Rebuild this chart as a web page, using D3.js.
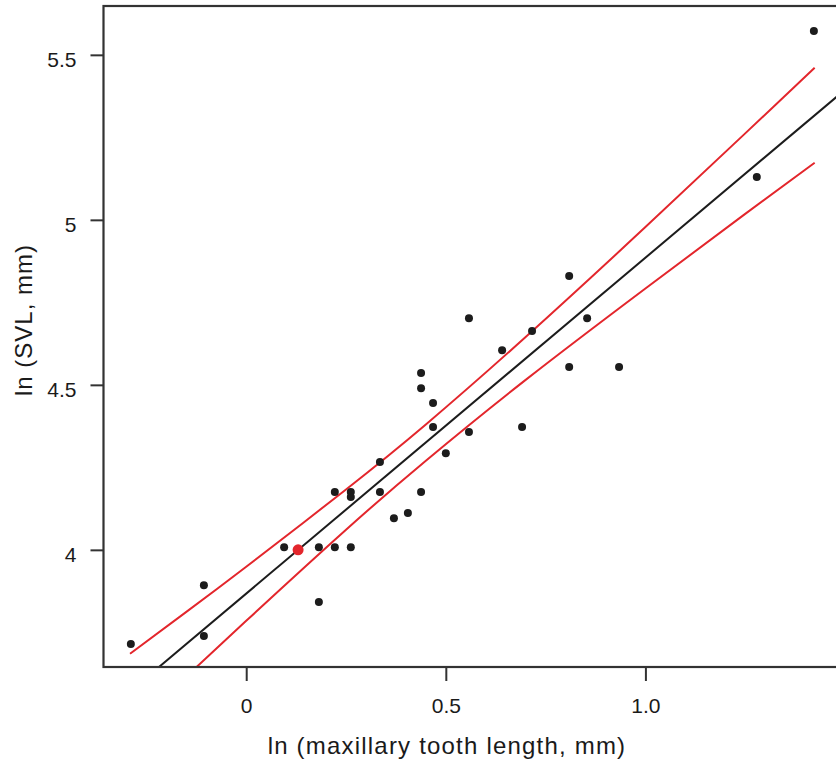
<!DOCTYPE html>
<html>
<head>
<meta charset="utf-8">
<script src="https://cdn.jsdelivr.net/npm/d3@7"></script>
<style>
    body { margin: 0; background: #fff; }
    text { font-family: "Liberation Sans", Arial, sans-serif; fill: #1a1a1a; }
</style>
</head>
<body>
<svg width="836" height="765"></svg>
<script>
// observed specimens, ln values
var lnTooth = [-0.289, -0.106, -0.106, 0.095, 0.182, 0.182, 0.222, 0.262, 0.222, 0.262,
    0.262, 0.335, 0.335, 0.370, 0.405, 0.438, 0.438, 0.438, 0.468, 0.468,
    0.500, 0.558, 0.558, 0.641, 0.691, 0.716, 0.809, 0.809, 0.854, 0.934,
    1.279, 1.422];
var lnSVL = [3.715, 3.893, 3.739, 4.008, 4.008, 3.842, 4.008, 4.008, 4.175, 4.175,
    4.160, 4.175, 4.266, 4.096, 4.112, 4.175, 4.536, 4.490, 4.445, 4.372,
    4.293, 4.357, 4.702, 4.605, 4.372, 4.663, 4.830, 4.554, 4.702, 4.554,
    5.130, 5.572];

// highlighted specimen (red dot)
var focalX = [0.13];
var focalY = [4.0];

// regression line, read at the plot edges
var fitX = [-0.36, 1.49];
var fitY = [3.501, 5.384];

// confidence band
var bandX = [-0.291, -0.15, 0, 0.25, 0.45, 0.7, 1.0, 1.25, 1.424];
var bandLow = [3.457, 3.616, 3.785, 4.061, 4.270, 4.515, 4.792, 5.018, 5.173];
var bandHigh = [3.685, 3.812, 3.949, 4.183, 4.380, 4.645, 4.978, 5.262, 5.461];

var xTicks = [0, 0.5, 1.0];
var xTickLabels = ["0", "0.5", "1.0"];
var yTicks = [4, 4.5, 5, 5.5];
var yTickLabels = ["4", "4.5", "5", "5.5"];

var canvas = d3.select("svg");

var margin = { top: 6, left: 103.5, bottom: 98, right: -4.5 };
var iInnerWidth = 836 - margin.left - margin.right;
var iInnerHeight = 765 - margin.top - margin.bottom;

var colorInk = "#1c1c1c";
var colorRed = "#e3262c";
var colorAxis = "#333333";

var xScale = d3.scaleLinear()
    .domain([-0.3575, 1.4887])
    .range([0, iInnerWidth]);

var yScale = d3.scaleLinear()
    .domain([3.645, 5.648])
    .range([iInnerHeight, 0]);

var g = canvas.append("g")
    .attr("transform", `translate(${margin.left},${margin.top})`);

g.append("clipPath").attr("id", "plotClip")
    .append("rect")
    .attr("width", iInnerWidth)
    .attr("height", iInnerHeight);

var plot = g.append("g").attr("clip-path", "url(#plotClip)");

// regression line
var fitData = fitX.map((x, i) => [x, fitY[i]]);
plot.append("path")
    .datum(fitData)
    .attr("d", d3.line().x(d => xScale(d[0])).y(d => yScale(d[1])))
    .attr("fill", "none")
    .attr("stroke", colorInk)
    .attr("stroke-width", 2);

// confidence band curves
var bandLine = d3.line()
    .x(d => xScale(d[0]))
    .y(d => yScale(d[1]))
    .curve(d3.curveNatural);

[bandLow, bandHigh].forEach(function (arr) {
    plot.append("path")
        .datum(bandX.map((x, i) => [x, arr[i]]))
        .attr("d", bandLine)
        .attr("fill", "none")
        .attr("stroke", colorRed)
        .attr("stroke-width", 2);
});

// specimens
plot.selectAll("circle.obs")
    .data(lnTooth.map((x, i) => [x, lnSVL[i]]))
    .enter()
    .append("circle")
    .attr("class", "obs")
    .attr("cx", d => xScale(d[0]))
    .attr("cy", d => yScale(d[1]))
    .attr("r", 4)
    .attr("fill", colorInk);

plot.selectAll("circle.focal")
    .data(focalX.map((x, i) => [x, focalY[i]]))
    .enter()
    .append("circle")
    .attr("class", "focal")
    .attr("cx", d => xScale(d[0]))
    .attr("cy", d => yScale(d[1]))
    .attr("r", 5.5)
    .attr("fill", colorRed);

// frame (right side falls outside the picture)
g.append("rect")
    .attr("width", iInnerWidth)
    .attr("height", iInnerHeight)
    .attr("fill", "none")
    .attr("stroke", colorAxis)
    .attr("stroke-width", 2.2);

// axes
var xAxis = g.append("g")
    .attr("transform", `translate(0,${iInnerHeight})`)
    .call(d3.axisBottom(xScale)
        .tickValues(xTicks)
        .tickSize(14)
        .tickPadding(17)
        .tickFormat((d, i) => xTickLabels[i]));

var yAxis = g.append("g")
    .call(d3.axisLeft(yScale)
        .tickValues(yTicks)
        .tickSize(13)
        .tickPadding(14)
        .tickFormat((d, i) => yTickLabels[i]));

[xAxis, yAxis].forEach(function (ax) {
    ax.select(".domain").remove();
    ax.selectAll(".tick line").attr("stroke", colorAxis).attr("stroke-width", 2);
    ax.selectAll(".tick text")
        .attr("fill", colorInk)
        .style("font-size", "21px")
        .style("font-family", "'Liberation Sans', Arial, sans-serif");
});
yAxis.selectAll(".tick text").attr("dy", "0.55em");

// axis titles
canvas.append("text")
    .attr("x", 447)
    .attr("y", 754)
    .attr("text-anchor", "middle")
    .style("font-size", "24px")
    .style("letter-spacing", "1.2px")
    .text("ln (maxillary tooth length, mm)");

canvas.append("text")
    .attr("transform", "translate(32,320) rotate(-90)")
    .attr("text-anchor", "middle")
    .style("font-size", "24px")
    .style("letter-spacing", "1px")
    .text("ln (SVL, mm)");
</script>
</body>
</html>
